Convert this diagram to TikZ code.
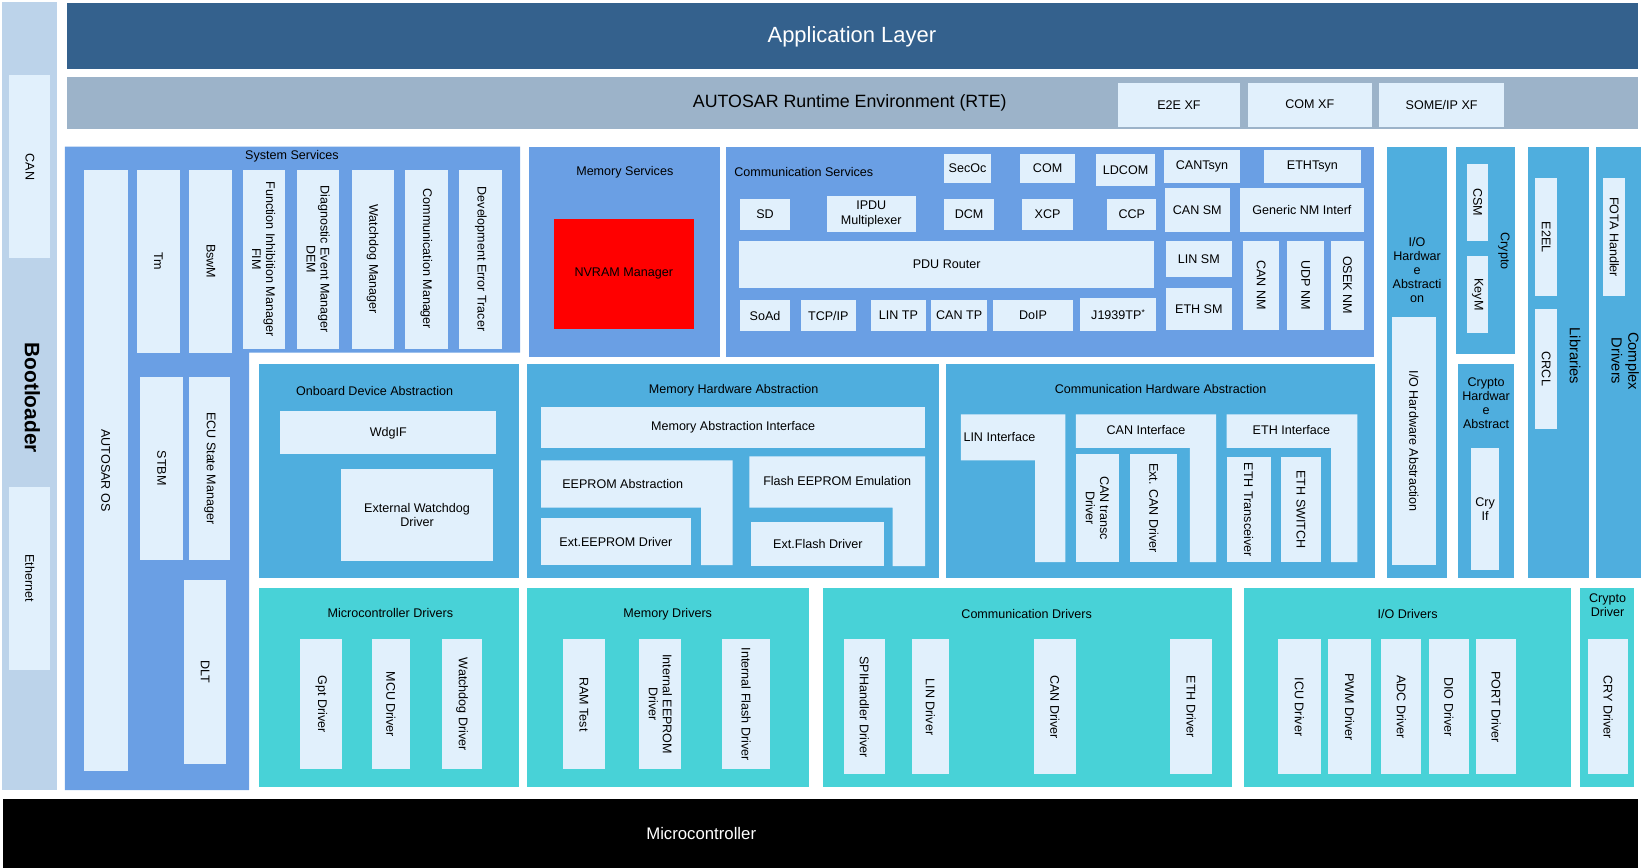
\documentclass[tikz,border=0pt]{standalone}
\usepackage{fontspec}
\setmainfont{Liberation Sans}
\definecolor{appc}{HTML}{34618D}
\definecolor{rtec}{HTML}{9CB3C9}
\definecolor{svcc}{HTML}{6A9FE4}
\definecolor{absc}{HTML}{4FAEDE}
\definecolor{drvc}{HTML}{48D2D7}
\definecolor{boxc}{HTML}{E1F0FC}
\definecolor{bootc}{HTML}{BCD3EA}
\tikzset{
  lbl/.style={font=\fontsize{12}{13.5}\selectfont, align=center, inner sep=1pt},
  lt/.style={fill=boxc},
}
% box with horizontal text
\newcommand\bx[6][]{\path[lt] (#2,#3) rectangle (#4,#5) node[midway,lbl,#1] {#6};}
% box with text turned down
\newcommand\vbx[6][]{\path[lt] (#2,#3) rectangle (#4,#5) node[midway,lbl,rotate=-90,#1] {#6};}
\begin{document}
\begin{tikzpicture}[x=1pt,y=-1pt]
\useasboundingbox (0,0) rectangle (1568,829);

%Bootloader column
\fill[bootc] (2,2) rectangle (54,755);
\vbx{9}{72}{48}{247}{CAN}
\vbx{9}{465}{48}{640}{Ethernet}
\node[lbl, rotate=-90, font=\fontsize{20}{22}\selectfont\bfseries] (boot) at (31,380) {Bootloader};

%Application layer and RTE
\fill[appc] (64,3) rectangle (1565,66);
\node[font=\fontsize{21}{24}\selectfont, text=white] (app) at (814,35) {Application Layer};
\fill[rtec] (64,74) rectangle (1565,123);
\node[font=\fontsize{17}{20}\selectfont] (rte) at (812,98) {AUTOSAR Runtime Environment (RTE)};
\bx{1068}{79}{1185}{121}{E2E XF}
\bx{1192}{79}{1311}{121}{COM XF}
\bx{1318}{79}{1437}{121}{SOME/IP XF}

%System services
\fill[svcc] (62,140) rectangle (497,337) (62,337) rectangle (238,755);
\node[lbl] (sys) at (279,149) {System Services};
\vbx{80}{162}{122}{737}{AUTOSAR OS}
\vbx{131}{162}{172}{337}{Tm}
\vbx{181}{162}{222}{337}{BswM}
\vbx{232}{162}{272}{333}{Function Inhibition Manager\\FIM}
\vbx{284}{162}{324}{333}{Diagnostic Event Manager\\DEM}
\vbx{336}{162}{376}{333}{Watchdog Manager}
\vbx{387}{162}{428}{333}{Communication Manager}
\vbx{439}{162}{480}{333}{Development Error Tracer}
\vbx{134}{360}{175}{535}{STBM}
\vbx{181}{360}{220}{535}{ECU State Manager}
\vbx{176}{554}{216}{730}{DLT}

%Memory services
\fill[svcc] (505,140) rectangle (688,341);
\node[lbl] (mems) at (597,165) {Memory Services};
\path[fill=red] (529,209) rectangle (663,314) node[midway,lbl] {NVRAM Manager};

%Communication services
\fill[svcc] (694,140) rectangle (1313,341);
\node[lbl] (coms) at (768,164) {Communication Services};
\bx{902}{147}{947}{175}{SecOc}
\bx{975}{147}{1027}{175}{COM}
\bx{1047}{147}{1104}{178}{LDCOM}
\bx{1112}{143}{1185}{175}{CANTsyn}
\bx{1208}{143}{1300}{175}{ETHTsyn}
\bx{707}{190}{755}{220}{SD}
\bx{790}{187}{875}{222}{IPDU\\Multiplexer}
\bx{902}{190}{950}{220}{DCM}
\bx{977}{190}{1025}{220}{XCP}
\bx{1058}{190}{1105}{220}{CCP}
\bx{1113}{180}{1175}{222}{CAN SM}
\bx{1185}{180}{1303}{222}{Generic NM Interf}
\bx{706}{230}{1103}{275}{PDU Router}
\bx{1114}{230}{1177}{265}{LIN SM}
\bx{1114}{275}{1177}{315}{ETH SM}
\vbx{1188}{230}{1222}{315}{CAN NM}
\vbx{1230}{230}{1265}{315}{UDP NM}
\vbx{1272}{230}{1303}{315}{OSEK NM}
\bx{707}{287}{755}{316}{SoAd}
\bx{765}{287}{818}{316}{TCP/IP}
\bx{832}{287}{885}{316}{LIN TP}
\bx{890}{287}{943}{316}{CAN TP}
\bx{949}{287}{1025}{316}{DoIP}
\bx{1032}{285}{1105}{316}{J1939TP\textsuperscript{*}}

%Right columns
\fill[absc] (1325,140) rectangle (1383,552);
\node[lbl] (ioha) at (1354,258) {I/O\\Hardwar\\e\\Abstracti\\on};
\vbx{1330}{303}{1372}{540}{I/O Hardware Abstraction}
\fill[absc] (1391,140) rectangle (1448,338);
\vbx{1402}{157}{1422}{230}{CSM}
\vbx{1402}{245}{1422}{318}{KeyM}
\node[lbl, rotate=-90] (cry) at (1437,240) {Crypto};
\fill[absc] (1393,348) rectangle (1447,552);
\node[lbl] (cha) at (1420,385) {Crypto\\Hardwar\\e\\Abstract};
\bx{1406}{428}{1432}{545}{Cry\\If}
\fill[absc] (1460,140) rectangle (1518,552);
\vbx{1467}{170}{1488}{283}{E2EL}
\vbx{1467}{295}{1488}{410}{CRCL}
\node[lbl, rotate=-90, font=\fontsize{14}{16}\selectfont] (lib) at (1505,340) {Libraries};
\fill[absc] (1525,140) rectangle (1568,552);
\vbx{1532}{170}{1553}{283}{FOTA Handler}
\node[lbl, rotate=-90, font=\fontsize{14}{16}\selectfont] (cdd) at (1553,345) {Complex\\Drivers};

%Onboard device abstraction
\fill[absc] (247,348) rectangle (496,552);
\node[lbl] (oda) at (358,374) {Onboard Device Abstraction};
\bx{268}{393}{474}{434}{WdgIF}
\bx{326}{448}{471}{536}{External Watchdog\\Driver}

%Memory hardware abstraction
\fill[absc] (504,348) rectangle (897,552);
\node[lbl] (mha) at (701,373) {Memory Hardware Abstraction};
\bx{517}{389}{884}{428}{Memory Abstraction Interface}
\path[lt] (517,440) -- (700,440) -- (700,540) -- (670,540) -- (670,485) -- (517,485) -- cycle;
\node[lbl] (eepa) at (595,462) {EEPROM Abstraction};
\bx{517}{495}{660}{540}{Ext.EEPROM Driver}
\path[lt] (716,436) -- (884,436) -- (884,541) -- (853,541) -- (853,485) -- (716,485) -- cycle;
\node[lbl] (fee) at (800,460) {Flash EEPROM Emulation};
\bx{718}{499}{845}{541}{Ext.Flash Driver}

%Communication hardware abstraction
\fill[absc] (904,348) rectangle (1314,552);
\node[lbl] (cha2) at (1109,372) {Communication Hardware Abstraction};
\path[lt] (918,396) -- (1018,396) -- (1018,537) -- (989,537) -- (989,440) -- (918,440) -- cycle;
\node[lbl] (linif) at (955,418) {LIN Interface};
\path[lt] (1028,396) -- (1162,396) -- (1162,537) -- (1137,537) -- (1137,428) -- (1028,428) -- cycle;
\node[lbl] (canif) at (1095,411) {CAN Interface};
\vbx{1028}{434}{1069}{537}{CAN transc\\Driver}
\vbx{1080}{434}{1125}{537}{Ext. CAN Driver}
\path[lt] (1172,396) -- (1297,396) -- (1297,537) -- (1272,537) -- (1272,428) -- (1172,428) -- cycle;
\node[lbl] (ethif) at (1234,411) {ETH Interface};
\vbx{1172}{437}{1214}{537}{ETH Transceiver}
\vbx{1224}{437}{1262}{537}{ETH SWITCH}

%Drivers
\fill[drvc] (247,562) rectangle (496,752);
\node[lbl] (mcd) at (373,586) {Microcontroller Drivers};
\vbx{287}{611}{327}{735}{Gpt Driver}
\vbx{355}{611}{392}{735}{MCU Driver}
\vbx{422}{611}{461}{735}{Watchdog Driver}
\fill[drvc] (504,562) rectangle (773,752);
\node[lbl] (memd) at (638,587) {Memory Drivers};
\vbx{538}{611}{578}{735}{RAM Test}
\vbx{611}{611}{651}{735}{Internal EEPROM\\Driver}
\vbx{690}{611}{736}{735}{Internal Flash Driver}
\fill[drvc] (786,562) rectangle (1177,752);
\node[lbl] (comd) at (981,587) {Communication Drivers};
\vbx{806}{611}{846}{740}{SPIHandler Driver}
\vbx{871}{611}{907}{740}{LIN Driver}
\vbx{988}{611}{1028}{740}{CAN Driver}
\vbx{1118}{611}{1158}{740}{ETH Driver}
\fill[drvc] (1189,562) rectangle (1501,752);
\node[lbl] (iod) at (1345,587) {I/O Drivers};
\vbx{1221}{611}{1262}{740}{ICU Driver}
\vbx{1269}{611}{1310}{740}{PWM Driver}
\vbx{1320}{611}{1358}{740}{ADC Driver}
\vbx{1365}{611}{1404}{740}{DIO Driver}
\vbx{1410}{611}{1449}{740}{PORT Driver}
\fill[drvc] (1510,562) rectangle (1561,752);
\node[lbl] (cryd) at (1536,578) {Crypto\\Driver};
\vbx{1517}{611}{1556}{740}{CRY Driver}

%Microcontroller
\fill[black] (3,763) rectangle (1565,830);
\node[font=\fontsize{16}{18}\selectfont, text=white] (mcu) at (670,796) {Microcontroller};
\end{tikzpicture}
\end{document}
